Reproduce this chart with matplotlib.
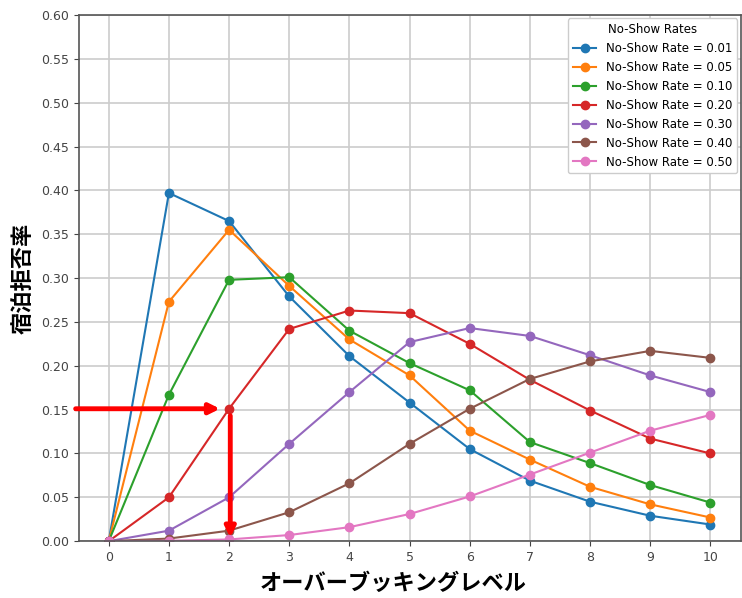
import numpy as np
import matplotlib.pyplot as plt

plt.rcParams['font.family'] = ['DejaVu Sans', 'Noto Sans CJK JP']

levels = np.arange(0, 11)
rates = [0.01, 0.05, 0.10, 0.20, 0.30, 0.40, 0.50]
denial = {
    0.01: [0, 0.397, 0.365, 0.279, 0.211, 0.158, 0.105, 0.069, 0.045, 0.029, 0.019],
    0.05: [0, 0.273, 0.355, 0.291, 0.230, 0.189, 0.126, 0.093, 0.062, 0.042, 0.027],
    0.10: [0, 0.167, 0.298, 0.301, 0.240, 0.203, 0.172, 0.113, 0.089, 0.064, 0.044],
    0.20: [0, 0.050, 0.151, 0.242, 0.263, 0.260, 0.225, 0.184, 0.149, 0.117, 0.100],
    0.30: [0, 0.012, 0.050, 0.111, 0.170, 0.227, 0.243, 0.234, 0.212, 0.189, 0.170],
    0.40: [0, 0.003, 0.012, 0.033, 0.066, 0.111, 0.151, 0.185, 0.205, 0.217, 0.209],
    0.50: [0, 0.0005, 0.002, 0.007, 0.016, 0.031, 0.051, 0.076, 0.101, 0.126, 0.144],
}

# reading of the chart: target denial rate and the level it maps to
target_rate = 0.151
target_level = 2

fig = plt.figure(figsize=(7.42, 5.98), dpi=100)
ax = fig.add_axes([0.106, 0.095, 0.892, 0.88])

for r in rates:
    ax.plot(levels, denial[r], marker='o', markersize=6, linewidth=1.5,
            label=f"No-Show Rate = {r:.2f}")

ax.set_xlim(-0.5, 10.5)
ax.set_ylim(0, 0.6)
ax.set_xticks(levels)
ax.set_yticks(np.arange(0, 0.61, 0.05))
ax.set_yticklabels([f"{v:.2f}" for v in np.arange(0, 0.61, 0.05)])
ax.tick_params(labelsize=9, labelcolor='#444444', color='#444444')
ax.grid(True, color='#cccccc', linewidth=1.2)
for s in ax.spines.values():
    s.set_color('#555555')
    s.set_linewidth(1.2)

ax.set_ylabel("宿泊拒否率", fontsize=16, family=['Noto Sans CJK JP'], fontweight='bold')
ax.yaxis.set_label_coords(-0.066, 0.5)
ax.set_xlabel("オーバーブッキングレベル", fontsize=16, family=['Noto Sans CJK JP'], fontweight='bold')
ax.xaxis.set_label_coords(0.475, -0.058)

leg = ax.legend(title="No-Show Rates", loc='upper right', fontsize=8.5, title_fontsize=8.5,
                borderaxespad=0.3, framealpha=1)

# arrows: rate -> level
ax.annotate('', xy=(target_level - 0.15, target_rate), xytext=(-0.55, target_rate),
            arrowprops=dict(arrowstyle='-|>,head_length=0.6,head_width=0.3',
                            color='red', lw=3.5, shrinkA=0, shrinkB=0),
            annotation_clip=False)
ax.annotate('', xy=(target_level + 0.02, 0.004), xytext=(target_level + 0.02, target_rate - 0.008),
            arrowprops=dict(arrowstyle='-|>,head_length=0.6,head_width=0.3',
                            color='red', lw=3.5, shrinkA=0, shrinkB=0),
            annotation_clip=False)

fig.savefig("out.png", dpi=100)
